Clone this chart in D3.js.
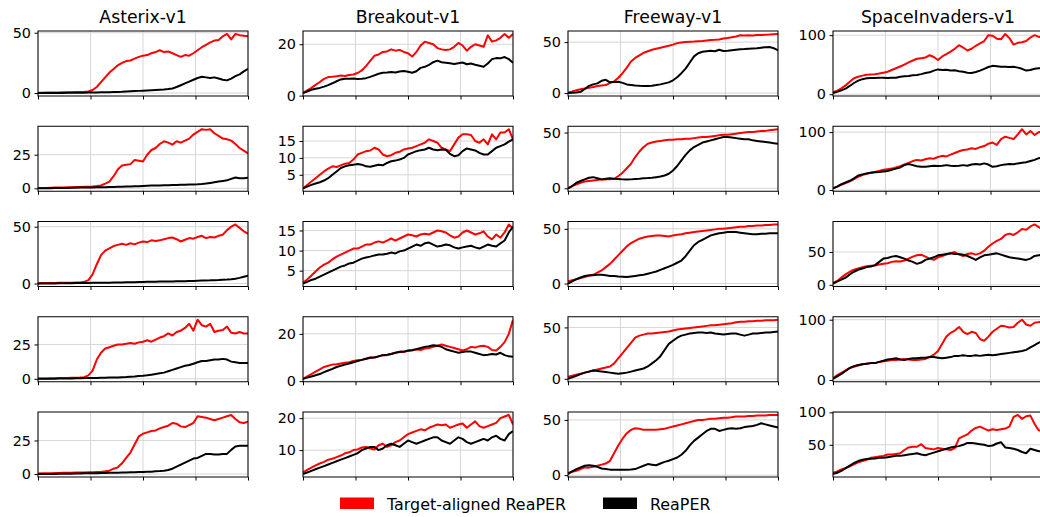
<!DOCTYPE html>
<html><head><meta charset="utf-8">
<script src="https://cdn.jsdelivr.net/npm/d3@7"></script>
<style>body{margin:0;background:#fff}svg{display:block}</style>
</head><body><svg id="c" width="1040" height="517"></svg>
<script>
// ---------- DATA ----------
const games = ["Asterix-v1", "Breakout-v1", "Freeway-v1", "SpaceInvaders-v1"];
const seriesNames = ["Target-aligned ReaPER", "ReaPER"];
const xTickValues = [0, 0.25, 0.5, 0.75, 1];

// y tick labels per game, one entry per row
const yTicksAsterix = [[0, 50], [0, 25], [0, 50], [0, 25], [0, 25]];
const yTicksBreakout = [[0, 20], [5, 10, 15], [5, 10, 15], [0, 20], [10, 20]];
const yTicksFreeway = [[0, 50], [0, 50], [0, 50], [0, 50], [0, 50]];
const yTicksSpace = [[0, 100], [0, 100], [0, 50], [0, 100], [50, 100]];

// Row 1
const asterix1Target = [0.3,0.3,0.4,0.4,0.5,0.5,0.6,0.6,0.7,0.8, 0.9,1.0,1.3,2.5,5,9,13,17,20,23, 25,26.5,27,28.5,30,31,31.5,33,34,35.5, 34,34.5,33,31.5,30,31.5,31,33,35.5,38, 40,42,43.5,44,47,49,44.5,49,48,47.5,47];
const asterix1Reaper = [0,0,0,0,0.1,0.1,0.1,0.2,0.2,0.2, 0.3,0.3,0.4,0.4,0.5,0.6,0.6,0.7,0.8,0.9, 1.0,1.2,1.4,1.6,1.8,2.0,2.2,2.4,2.6,2.8, 3.0,3.3,3.8,5,6.5,8,9.5,11,12.5,13.5, 13,12.5,13,12,11,10.5,12,14,15.5,18,20];
const breakout1Target = [1,2,3,4.2,5.3,6.5,7.2,7.3,7.5,7.8, 7.6,8,8.2,8.8,9.8,11.5,13.5,15.5,16,17, 17.2,18,17.5,17.8,17,16.5,15.2,17,19.5,21, 20.5,20,18.5,18,17.8,18,19,20.5,19.5,17.5, 19,20,19.5,19,23.5,21,21.5,22.5,24,22.5,24];
const breakout1Reaper = [1,1.6,2.3,2.7,3,3.5,4.1,4.8,5.6,6.3, 6.6,6.6,6.7,6.5,6.6,6.8,7.3,7.9,8.5,8.9, 9,9.2,9,9.4,9.6,9.3,8.9,9.5,10.8,11.2, 12,13,13.6,13,12.8,12.6,12.3,12.6,12.9,12.2, 12.5,12,11.6,11.2,12.5,14.2,14.6,14.5,15,14.2,12.8];
const freeway1Target = [0.5,1.5,2.8,3.8,4.5,5.2,6,7,7.5,7.8, 10,11.5,15,19.5,25,31,34.5,37,39.5,41, 42.5,43.5,44.5,45.5,46.5,47.5,49,49.5,50,50.3, 50.5,50.8,51,51.5,52,52.2,52.5,53.5,54,54.8, 55.5,56.8,56.5,56.8,56.5,57,57,57.3,57.5,57.8,58];
const freeway1Reaper = [0,0.2,0.5,1.2,4,7,8.5,9.5,12,13, 10.5,10.8,11,10,8.5,8,7.5,7.2,7,6.8, 7.2,7.8,8.5,9.5,10.5,12.5,15.5,19.5,24,30, 36,39,40.5,41,41.5,41,42.5,41.2,41.5,42, 42.5,43,43.2,43.5,43.8,44,44.5,45,45.2,44,42];
const space1Target = [3,6,10,15,21,27,29.5,31.5,33,33.5, 34,35,36.5,38,41,44,47,50,54,57, 60,61,62,66,63,58,64,68,72,77, 83,79,74,77,82,86,90,100,99,94, 93,102,95,84,87,88,90,96,100,97,97];
const space1Reaper = [2,4,6.5,9.5,14,19,23,25.5,27,27.5, 27.5,27.8,28,27.5,27.8,28,29.5,30.5,31,32, 32.5,34,36,37,40,42,41,41.5,40,40.5, 39,38,36.5,36,37.5,40,43,46,48,47.5, 46.5,46.5,46,46.5,45,43,40,41,43,44,44];

// Row 2
const asterix2Target = [0.2,0.3,0.3,0.4,0.5,0.5,0.6,0.7,0.8,0.9, 1,1.1,1.2,1.4,1.7,2.1,3.5,5,9,14, 17,17.5,18,21,20.5,20,25,28.5,30,33, 35,34,32.5,35,34,35.5,37,40,42,44, 43.5,44,41,39,37,36.5,35.5,33,30,28,26];
const asterix2Reaper = [0,0,0.1,0.1,0.2,0.2,0.3,0.3,0.4,0.4, 0.5,0.5,0.6,0.6,0.7,0.8,0.8,0.9,1,1.1, 1.2,1.3,1.4,1.5,1.6,1.8,1.9,2,2,2.1, 2.2,2.3,2.4,2.5,2.6,2.7,2.8,2.9,3,3.2, 3.5,4,4.5,5,5.5,6,7,8,7.5,7.5,7.8];
const breakout2Target = [1,2,3,4,5,6,6.8,7.5,7.3,7.8, 8.3,8.5,9.5,11,11.5,12,12.2,13,12.5,11, 10.5,10.8,11.5,11.8,12.5,12.8,13,13.5,14,14.5, 15.5,15,14.5,13,12.5,12,14,16,17,17, 16.8,15,14.5,15.5,14,17,15.5,17.5,17.5,18.5,15.5];
const breakout2Reaper = [1,1.5,2,2.4,2.8,3.3,4,5,6,7, 7.5,7.8,8,8.2,8,7.5,7.4,7.7,8,7.8, 8.5,9,9.2,9.5,10,11,11.5,12,12.3,12.5, 13,12.5,12.3,12.5,12.4,11.2,10.5,10.8,12,12.8, 12.5,12.2,11.5,11,11,12,13,13.5,14,14.8,15.5];
const freeway2Target = [0,2,3.5,5,6,6.5,7,7.5,8,8, 8.2,8.5,11,14,18,22,28,33,37,40, 41,42,42.5,43,43.5,43.5,44,44,44.5,44.5, 45,45.5,46,46,46.5,47,47.5,48,48,48.5, 49,49.5,50,50.5,50.5,51,51.5,51.5,52,52.5,53];
const freeway2Reaper = [0,2,5,6.5,8,9.5,10,9,8,8.5, 9,8.5,8.3,8,7.8,8,8.3,8.5,9,9.2, 9.5,10,10.5,11.5,13,16,20,25,30,34, 37,39,41,42,43,44,45,46,46,45.5, 45,44.5,44,44,43,42.5,42,41.5,41,40.5,40];
const space2Target = [3,6,9,12,15,19,23,26,28,30, 31,33,35,36,37,39,41,44,47,50, 52,51,53,55,54,57,59,58,61,64, 67,69,70,72,71,74,76,80,82,78, 88,92,90,88,96,105,96,102,95,100,101];
const space2Reaper = [3,6,10,13,16,20,25,27,28.5,30, 30.5,31,32,33,35,37,39,43,45,43, 41,40,40,41,42,41.5,42,43,42,41.5, 42,43,42,44,45,44,46,44,40,41, 43,44,45,44.5,46,47,48,50,52,55,56];

// Row 3
const asterix3Target = [0.3,0.4,0.4,0.5,0.5,0.6,0.6,0.7,0.8,0.9, 1,1.5,3,8,17,25,29,31,33,34, 35,34,35.5,34.5,36,37,36.5,38,37.5,38, 39,40,40.5,39,37,38.5,40,39.5,41,42, 40,41,40.5,42,43,47,50,52,49,46,44];
const asterix3Reaper = [0,0,0,0.1,0.1,0.2,0.2,0.3,0.3,0.4, 0.4,0.5,0.5,0.6,0.6,0.7,0.8,0.8,0.9,1, 1,1.1,1.1,1.2,1.3,1.4,1.5,1.5,1.6,1.7, 1.8,1.8,1.9,2,2,2.1,2.2,2.3,2.5,2.6, 2.7,2.8,3,3.1,3.3,3.5,3.8,4.2,5,6,7];
const breakout3Target = [2,2.8,3.8,4.8,5.8,6.5,7,7.8,8.5,9, 9.5,10,10.5,10.5,11,11.5,11.5,12,12.3,12, 12.5,13,12.5,13,13.5,14,13.8,13.5,14,14.2, 14,14.5,15,14.8,14.5,13.8,13.2,13.5,14.5,15, 14.5,14,14.3,14.8,13.5,12.8,14,13.2,14.5,16.5,15.5];
const breakout3Reaper = [1.8,2.2,2.7,3,3.5,4,4.5,5,5.5,6, 6.3,6.8,7,7.5,8,8.3,8.5,8.8,9,9, 9.2,9.5,9.3,9.8,10,10.5,11,11.5,11.2,11.8, 12,11.5,11,11.2,11.5,11.3,10.8,10.5,10.8,11, 11.2,10.8,10.5,11,11.5,11.2,11,11.8,12.5,14.5,16];
const freeway3Target = [2,3,4,5,6,7,8,10,12,15, 18,22,26,30,34,37,39,41,42,43, 43.5,44,44,43.5,43,44,44.5,45,46,46.5, 47,47.5,48,48.5,49,49.5,50,50,50.5,51, 51.5,52,52,52.5,52.5,53,53,53.5,53.5,54,54];
const freeway3Reaper = [0,2,4,5.5,7,7.5,7.5,8,8,7.5, 7,6.8,6.5,6.3,6,6.5,7,7.5,8,9, 10,11,12.5,14,15.5,17,19,21,25,30, 35,38,40,42,44,45,46,46.5,47,47, 47,46.5,46,45.5,45,45,45.5,45.5,46,46,46];
const space3Target = [3,6,11,16,20,23,25,27,28.5,29, 29.5,31,32,33,35,36,35.5,37,40,43, 45,46,43,40,38,42,44,46,48,50, 46,44,47,48,46,48,52,58,63,67, 70,76,78,76,80,85,84,89,92,88,84];
const space3Reaper = [2,5,8,11,16,20,23,25,27,28, 30,35,40,41,43,44,42,40,37,35, 32,34,38,40,42,45,46,47,48,47, 47,46,44,41,38,42,45,46,47,48, 46,44,42,41,40,39,38,40,44,45,46];

// Row 4
const asterix4Target = [0.2,0.3,0.3,0.4,0.4,0.5,0.5,0.6,0.7,0.8, 0.9,1.2,2.5,6,14,19,22,23,24,25, 25,25.5,26,25.5,26.5,27,28,27,28.5,30, 31,33,31.5,34,35,37,40,35,43,39, 38,40,34,35,35.5,38,33.5,33,34,33,33];
const asterix4Reaper = [0,0,0,0.1,0.1,0.2,0.2,0.3,0.3,0.4, 0.4,0.5,0.5,0.6,0.6,0.7,0.8,0.9,1,1, 1.2,1.3,1.5,1.7,2,2.2,2.5,3,3.5,4, 4.5,5.5,6.5,7.5,8.5,9.5,10,11,12,13, 13,13.5,14,14,14.5,14,12.5,12,11.5,11.5,11.5];
const breakout4Target = [1,2,3,4,5,6,6.5,7,7.2,7.5, 7.8,8,8.5,8.8,9,9.5,9.8,10,10.5,11, 11,11.5,12,12.5,12.3,12.8,13,13.5,13.2,13.8, 14,14.5,15,15.5,15,14.5,14,13.5,13,13.5, 14.5,14.2,14.8,15,14.5,13.2,13,14.5,16.5,20,26];
const breakout4Reaper = [1,1.5,2,2.5,3,3.8,4.5,5.2,6,6.5, 7,7.5,8,8.5,9,9.5,10,10,10.5,11, 11.2,11.5,12,12.3,12.5,13,13.2,13.5,14,14.5, 14.8,15.2,15,14.5,13.5,13,12.5,12,12.3,12.6, 12.5,12,11.5,11,11.2,11.5,11.3,12,11,10.5,10.3];
const freeway4Target = [2,3,4,5,6,7,8,9,10,11, 12,15,20,25,30,35,40,42,43,44, 44,44.5,45,45.5,46,47,48,48.5,49,49.5, 50,50.5,51,51.5,52,52,52.5,53,53.5,54, 55,55.5,55.5,56,56,56.5,56.5,57,57,57,57.5];
const freeway4Reaper = [0,1.5,3,4.5,6,7,8,7.5,7,6.5, 6,5.5,5,5.5,6,7,8,9,10,12, 15,18,22,28,34,37,40,42,43,44, 44.5,45,45,44.5,45,44,43.5,43,43.5,44, 44,43,42,43,44,44,44.5,45,45,45.5,46];
const space4Target = [3,8,12,16,20,22,24,26,27,28, 28,30,31,32,33,33,34,35,34,33, 33,34,35,38,42,48,60,72,78,82, 88,80,76,80,78,68,65,72,80,85, 90,89,87,88,95,100,92,90,95,96,96];
const space4Reaper = [2,6,10,15,20,23,25,26,27,28, 28,30,32,34,35,36,34,33,35,36, 36,37,37,38,38,37,36,37,38,40, 40,41,40,40,41,40,41,42,41,42, 43,44,45,46,47,48,50,54,58,62,64];

// Row 5
const asterix5Target = [0.4,0.5,0.5,0.6,0.7,0.8,0.9,1,1,1.1, 1.1,1.2,1.3,1.4,1.5,1.6,2,2.5,4,5, 8,12,16,22,28,30,31,32,32.5,34, 35,36,38,37.5,35.5,35,36.5,38,43,42.5, 42,41,40,41,42,43,44,41,38.5,38,39];
const asterix5Reaper = [0,0,0,0.1,0.1,0.2,0.2,0.3,0.3,0.4, 0.4,0.5,0.5,0.6,0.6,0.7,0.8,0.9,1,1, 1.1,1.2,1.3,1.4,1.5,1.6,1.7,1.8,2,2.2, 2.5,3,4,5.5,7,8.5,10,11.5,12,13.5, 15,15,14.5,14.5,15,15,18,20.5,21,21,21];
const breakout5Target = [3,3.8,4.5,5.2,5.8,6.3,7,7.3,7.8,8.3, 9,9.3,10,10.2,10.8,11,10.5,10.2,11.5,12, 11,11.5,12.5,13,14,15,15.5,16,16.5,16.2, 17,17.5,18,17.8,18,17,17.5,18,18.3,17, 18,19,17.5,17,17.5,18,18.5,20,20.5,21,18];
const breakout5Reaper = [2.5,3,3.5,4,4.5,5,5.5,6,6.5,7, 7.5,8,8.5,9,10,10.5,11,11,10,10.5, 11.5,12,11.5,11,12,13,12.5,12,12.5,13, 13.5,14,14,13,12.5,12,13,14,13.5,12.5, 12,12.5,13,13.5,13,14,14.5,13.5,13,15,16];
const freeway5Target = [2,3,4,5.5,7,6.8,7.5,8.5,9.5,10.5, 13,20,27,33,38,41,42.5,42,41,41, 41,41,41.5,42,43,44,45,46,47,48, 49,50,50,50.5,51,51,51.5,52,52,52.5, 53,53,53,53.5,53.5,54,54,54,54.5,54.5,54.5];
const freeway5Reaper = [1,3.5,5.5,7,8.5,9,8.5,7.5,6,5.5, 5,5,4.8,5,5,5.2,5.5,7,8.5,10, 9.5,9,10.5,12,13,14.5,16,18.5,22,27, 31,34,37,40,42,42,40,41,42,42.5, 42,42.5,43.5,44,44.5,45.5,47,46,45,44,43];
const space5Target = [7,9,12,14,17,20,23,25,27,30, 31,32,33,35,35,36,37,42,46,47, 47,51,45,44,43,45,44,43,42,45, 60,63,66,72,76,78,75,72,74,73, 74,75,78,93,96,90,94,95,82,72,72];
const space5Reaper = [5,7,10,14,18,22,25,27,28,28.5, 29,30,30,31,32,33,33,34,35,36, 37,35,34,36,38,40,42,44,46,47, 48,50,53,53,52,51,50,48,49,52, 54,46,45,44,42,39,37,44,42,40,40];

// ---------- PANEL TABLE (built from the arrays above) ----------
const rowsData = [
  [[asterix1Target, asterix1Reaper], [breakout1Target, breakout1Reaper], [freeway1Target, freeway1Reaper], [space1Target, space1Reaper]],
  [[asterix2Target, asterix2Reaper], [breakout2Target, breakout2Reaper], [freeway2Target, freeway2Reaper], [space2Target, space2Reaper]],
  [[asterix3Target, asterix3Reaper], [breakout3Target, breakout3Reaper], [freeway3Target, freeway3Reaper], [space3Target, space3Reaper]],
  [[asterix4Target, asterix4Reaper], [breakout4Target, breakout4Reaper], [freeway4Target, freeway4Reaper], [space4Target, space4Reaper]],
  [[asterix5Target, asterix5Reaper], [breakout5Target, breakout5Reaper], [freeway5Target, freeway5Reaper], [space5Target, space5Reaper]]
];
const ticksByCol = [yTicksAsterix, yTicksBreakout, yTicksFreeway, yTicksSpace];

// ---------- LAYOUT ----------
const colLeft = [38, 303, 568, 833];
const rowTop = [31, 126.25, 221.5, 316.75, 412];
const W = 210, H = 65;
const colors = ["#ff0000", "#000000"];
const FONT = "DejaVu Sans, sans-serif";

const svg = d3.select("#c");
svg.append("rect").attr("width", 1040).attr("height", 517).attr("fill", "#fff");

games.forEach((g, c) => {
  svg.append("text").attr("x", colLeft[c] + W / 2).attr("y", 23)
    .attr("text-anchor", "middle").attr("font-family", FONT).attr("font-size", 17.3)
    .attr("fill", "#000").text(g);
});

rowsData.forEach((row, r) => {
  row.forEach((pair, c) => {
    const L = colLeft[c], T = rowTop[r];
    const all = pair[0].concat(pair[1]);
    const [mn, mx] = d3.extent(all);
    const pad = (mx - mn) * 0.05;
    const x = d3.scaleLinear().domain([0, 1]).range([L, L + W]);
    const y = d3.scaleLinear().domain([mn - pad, mx + pad]).range([T + H, T]);
    const ticks = ticksByCol[c][r];
    const gP = svg.append("g");
    const clipId = `clip${r}_${c}`;
    gP.append("clipPath").attr("id", clipId).append("rect")
      .attr("x", L).attr("y", T).attr("width", W).attr("height", H);

    // grid
    gP.append("g").selectAll("line").data(ticks).join("line")
      .attr("x1", L).attr("x2", L + W).attr("y1", d => y(d)).attr("y2", d => y(d))
      .attr("stroke", "#d6d6d6").attr("stroke-width", 1);
    gP.append("g").selectAll("line").data(xTickValues).join("line")
      .attr("y1", T).attr("y2", T + H).attr("x1", d => x(d)).attr("x2", d => x(d))
      .attr("stroke", "#d6d6d6").attr("stroke-width", 1);

    // lines
    const line = d3.line().x((d, i, arr) => x(i / (arr.length - 1))).y(d => y(d));
    pair.forEach((s, k) => {
      gP.append("path").datum(s).attr("d", line)
        .attr("clip-path", `url(#${clipId})`)
        .attr("fill", "none").attr("stroke", colors[k]).attr("stroke-width", 2)
        .attr("stroke-linejoin", "round").attr("stroke-linecap", "butt");
    });

    // axes
    const ya = gP.append("g").attr("transform", `translate(${L},0)`)
      .call(d3.axisLeft(y).tickValues(ticks).tickSize(3.5).tickSizeOuter(0).tickPadding(3.5));
    ya.select(".domain").remove();
    ya.selectAll("text").attr("font-family", FONT).attr("font-size", 14.4).attr("fill", "#000");
    ya.selectAll("line").attr("stroke", "#000").attr("stroke-width", 1);

    const xa = gP.append("g").attr("transform", `translate(0,${T + H})`)
      .call(d3.axisBottom(x).tickValues(xTickValues).tickFormat("").tickSize(3.5).tickSizeOuter(0));
    xa.select(".domain").remove();
    xa.selectAll("line").attr("stroke", "#000").attr("stroke-width", 1);

    gP.append("rect").attr("x", L).attr("y", T).attr("width", W).attr("height", H)
      .attr("fill", "none").attr("stroke", "#000").attr("stroke-width", 1);
  });
});

// legend
const legX = [340, 603];
seriesNames.forEach((n, k) => {
  svg.append("rect").attr("x", legX[k]).attr("y", 497.5).attr("width", 34).attr("height", 11.5)
    .attr("fill", colors[k]);
  svg.append("text").attr("x", legX[k] + 47).attr("y", 509.5)
    .attr("font-family", FONT).attr("font-size", 15.9).attr("fill", "#000").text(n);
});
</script>
</body></html>
